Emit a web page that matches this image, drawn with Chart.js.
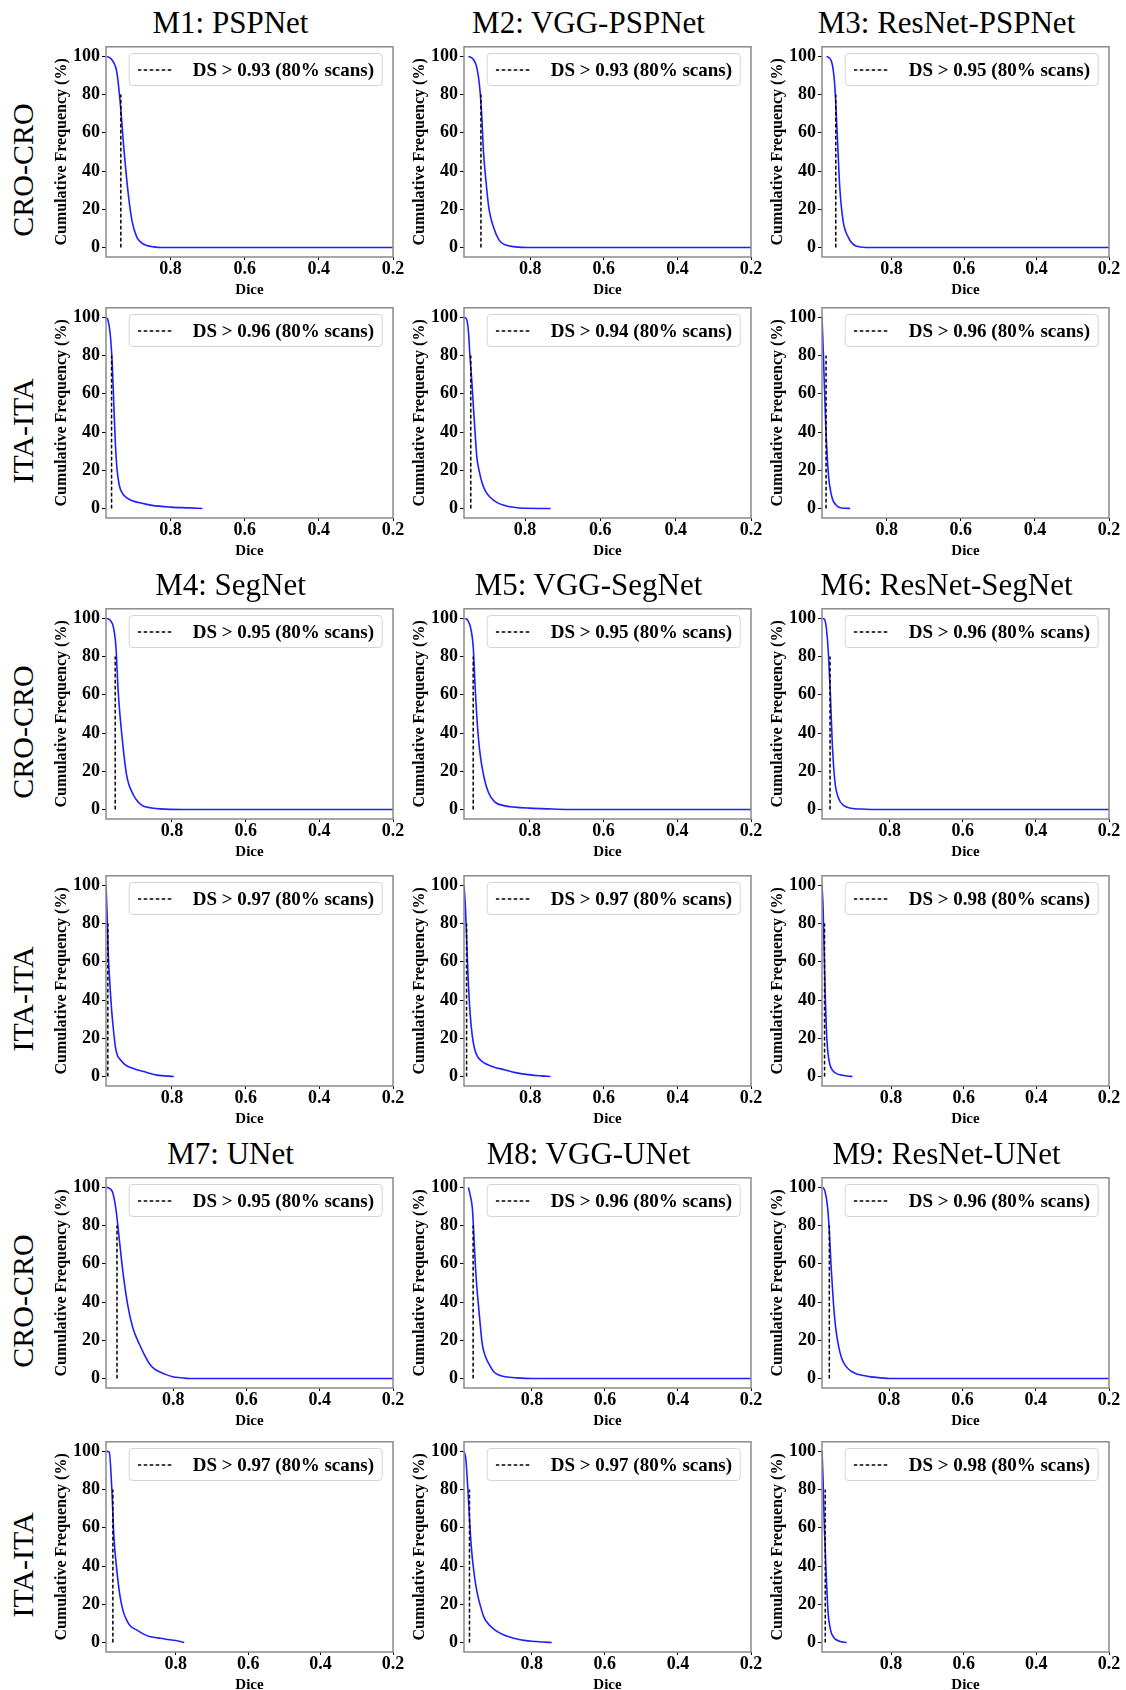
<!DOCTYPE html>
<html>
<head>
<meta charset="utf-8">
<script src="https://cdn.jsdelivr.net/npm/chart.js@4.4.0/dist/chart.umd.min.js"></script>
<style>
  body { margin: 0; background: #fff; }
  #fig { position: relative; width: 1126px; height: 1690px; background: #fff; font-family: "Liberation Serif", "Times New Roman", serif; color: #000; }
  #fig canvas { position: absolute; }
  .title { position: absolute; font-size: 31px; line-height: 30px; white-space: nowrap; transform: translateX(-50%); }
  .rowlab { position: absolute; font-size: 30px; line-height: 30px; white-space: nowrap; transform: translate(-50%, -50%) rotate(-90deg); }
  .legend { position: absolute; height: 31px; border: 1px solid #d4d4d4; border-radius: 4px; background: rgba(255,255,255,0.8);
            display: flex; align-items: center; padding: 0 8px; font-weight: bold; font-size: 19px; white-space: nowrap; transform: translateX(-100%); }
  .legend svg { margin-right: 19px; }
</style>
</head>
<body>
<div id="fig"></div>
<script>
// model names, row labels, ticks
const modelNames = ["M1: PSPNet", "M2: VGG-PSPNet", "M3: ResNet-PSPNet",
                    "M4: SegNet", "M5: VGG-SegNet", "M6: ResNet-SegNet",
                    "M7: UNet", "M8: VGG-UNet", "M9: ResNet-UNet"];
const setNames = ["CRO-CRO", "ITA-ITA"];
const xTicks = [0.8, 0.6, 0.4, 0.2];
const yTicks = [0, 20, 40, 60, 80, 100];

// 80% cut-off dice per panel (row by row: M1-M3 CRO, M1-M3 ITA, M4-M6 CRO, ...)
const cutoffDice = [0.934, 0.934, 0.954,
                    0.959, 0.944, 0.964,
                    0.954, 0.953, 0.963,
                    0.974, 0.973, 0.983,
                    0.954, 0.961, 0.963,
                    0.974, 0.970, 0.981];
// left end of each reversed dice axis
const diceAxisMax = [0.974, 0.980, 0.992,
                     0.974, 0.962, 0.975,
                     0.979, 0.978, 0.985,
                     0.979, 0.980, 0.990,
                     0.984, 0.986, 0.983,
                     0.993, 0.985, 0.990];

// cumulative frequency curves, CRO-CRO
const m1CroDice = [0.971, 0.962, 0.954, 0.945, 0.936, 0.925, 0.914, 0.904, 0.891, 0.878, 0.864, 0.845, 0.827, 0.2];
const m1CroFreq = [100, 99, 97, 92, 76.5, 50, 28, 14, 5.4, 2.4, 1, 0.3, 0, 0];
const m2CroDice = [0.968, 0.955, 0.945, 0.938, 0.932, 0.927, 0.920, 0.912, 0.900, 0.885, 0.870, 0.84, 0.80, 0.2];
const m2CroFreq = [100, 98.5, 94, 85, 70, 50, 34, 20, 10.7, 4, 1.5, 0.3, 0, 0];
const m3CroDice = [0.979, 0.966, 0.957, 0.950, 0.943, 0.934, 0.920, 0.898, 0.870, 0.2];
const m3CroFreq = [100, 97.5, 85.4, 59.4, 31.6, 14.2, 5.5, 0.7, 0, 0];
const m4CroDice = [0.977, 0.968, 0.959, 0.952, 0.946, 0.936, 0.923, 0.905, 0.89, 0.877, 0.855, 0.832, 0.77, 0.2];
const m4CroFreq = [100, 99, 95.5, 85, 62, 39, 18, 7.7, 3.5, 1.7, 0.8, 0.3, 0, 0];
const m5CroDice = [0.975, 0.968, 0.960, 0.953, 0.948, 0.942, 0.935, 0.925, 0.912, 0.895, 0.87, 0.84, 0.80, 0.75, 0.70, 0.2];
const m5CroFreq = [100, 99, 95, 85, 65, 45, 30, 18, 9, 4, 2, 1.2, 0.7, 0.3, 0, 0];
const m6CroDice = [0.983, 0.977, 0.972, 0.967, 0.962, 0.957, 0.950, 0.940, 0.925, 0.905, 0.88, 0.85, 0.2];
const m6CroFreq = [100, 99, 93, 80, 60, 35, 15, 6, 2, 0.6, 0.2, 0, 0];
const m7CroDice = [0.982, 0.975, 0.966, 0.957, 0.947, 0.938, 0.925, 0.911, 0.893, 0.878, 0.866, 0.852, 0.838, 0.82, 0.802, 0.78, 0.757, 0.2];
const m7CroFreq = [100, 99.5, 97.4, 88.8, 71.6, 56, 38.8, 26.7, 18, 12, 7.8, 5, 3.5, 2, 0.9, 0.4, 0, 0];
const m8CroDice = [0.974, 0.968, 0.963, 0.959, 0.955, 0.950, 0.945, 0.940, 0.936, 0.930, 0.923, 0.913, 0.904, 0.89, 0.873, 0.84, 0.80, 0.2];
const m8CroFreq = [100, 95, 88.8, 75, 59.5, 46, 35.3, 25, 18, 13, 9.5, 6, 3.4, 1.8, 0.9, 0.3, 0, 0];
const m9CroDice = [0.98, 0.975, 0.968, 0.963, 0.958, 0.952, 0.946, 0.938, 0.93, 0.92, 0.905, 0.89, 0.87, 0.85, 0.82, 0.80, 0.2];
const m9CroFreq = [100, 98, 90, 77, 58, 40, 27, 17, 11, 7, 4, 2.5, 1.5, 0.8, 0.3, 0, 0];

// cumulative frequency curves, ITA-ITA
const m1ItaDice = [0.974, 0.968, 0.962, 0.957, 0.953, 0.949, 0.944, 0.938, 0.930, 0.918, 0.905, 0.88, 0.85, 0.80, 0.75, 0.714];
const m1ItaFreq = [100, 98, 90, 75, 55, 35, 20, 12, 8, 5.5, 4.2, 2.8, 1.6, 0.7, 0.3, 0];
const m2ItaDice = [0.962, 0.955, 0.950, 0.946, 0.941, 0.937, 0.932, 0.928, 0.921, 0.914, 0.905, 0.892, 0.875, 0.856, 0.83, 0.80, 0.732];
const m2ItaFreq = [100, 99, 92, 79, 66, 53, 38, 27, 19, 13.4, 9, 5.7, 3.2, 1.7, 0.6, 0.1, 0];
const m3ItaDice = [0.975, 0.971, 0.965, 0.958, 0.949, 0.935, 0.922, 0.899];
const m3ItaFreq = [100, 79, 44, 18.6, 6.5, 1.4, 0.2, 0];
const m4ItaDice = [0.979, 0.976, 0.973, 0.968, 0.963, 0.958, 0.954, 0.948, 0.941, 0.932, 0.923, 0.91, 0.895, 0.868, 0.841, 0.795];
const m4ItaFreq = [100, 85, 65, 47, 33, 23, 16, 11, 9, 7, 5.6, 4.5, 3.5, 2.1, 0.7, 0];
const m5ItaDice = [0.98, 0.976, 0.972, 0.968, 0.963, 0.958, 0.952, 0.945, 0.935, 0.92, 0.90, 0.87, 0.84, 0.80, 0.77, 0.745];
const m5ItaFreq = [100, 88, 68, 48, 32, 22, 15, 11, 8.5, 6.5, 5, 3.5, 2, 0.8, 0.3, 0];
const m6ItaDice = [0.99, 0.987, 0.984, 0.981, 0.978, 0.974, 0.968, 0.96, 0.95, 0.935, 0.92, 0.906];
const m6ItaFreq = [100, 88, 65, 42, 25, 13, 6, 3, 1.5, 0.6, 0.2, 0];
const m7ItaDice = [0.991, 0.984, 0.977, 0.971, 0.963, 0.954, 0.945, 0.936, 0.925, 0.909, 0.89, 0.873, 0.85, 0.827, 0.80, 0.777];
const m7ItaFreq = [100, 99.6, 80.7, 54.8, 37.6, 23.8, 16, 11.7, 8.5, 6.6, 4.5, 3.1, 2.4, 1.7, 1, 0];
const m8ItaDice = [0.985, 0.98, 0.975, 0.97, 0.965, 0.958, 0.95, 0.94, 0.93, 0.915, 0.90, 0.88, 0.86, 0.84, 0.82, 0.80, 0.77, 0.745];
const m8ItaFreq = [100, 96, 82, 65, 50, 37, 27, 19, 13, 9, 6.5, 4.3, 2.8, 1.8, 1.1, 0.6, 0.2, 0];
const m9ItaDice = [0.99, 0.987, 0.984, 0.979, 0.973, 0.968, 0.964, 0.957, 0.951, 0.94, 0.922];
const m9ItaFreq = [100, 85, 63, 38, 15, 8, 4.8, 2.5, 1.4, 0.5, 0];

const curveDice = [
    [m1CroDice, m2CroDice, m3CroDice, m4CroDice, m5CroDice, m6CroDice, m7CroDice, m8CroDice, m9CroDice],
    [m1ItaDice, m2ItaDice, m3ItaDice, m4ItaDice, m5ItaDice, m6ItaDice, m7ItaDice, m8ItaDice, m9ItaDice],
];
const curveFreq = [
    [m1CroFreq, m2CroFreq, m3CroFreq, m4CroFreq, m5CroFreq, m6CroFreq, m7CroFreq, m8CroFreq, m9CroFreq],
    [m1ItaFreq, m2ItaFreq, m3ItaFreq, m4ItaFreq, m5ItaFreq, m6ItaFreq, m7ItaFreq, m8ItaFreq, m9ItaFreq],
];

// -----------------------
// layout
// -----------------------
const colLeft = [106, 464, 822];
const rowTop = [44, 305, 606, 873, 1175, 1439];
const BOX_W = 287, BOX_H = 213;
const Y_AXIS_W = 60, X_AXIS_H = 42, PAD_TOP = 10, PAD_RIGHT = 14;
const FONT = "'Liberation Serif', 'Times New Roman', serif";

Chart.defaults.font.family = FONT;
Chart.defaults.color = "#000";

// grey frame round the plot area (all four sides)
const boxFrame = {
    id: "boxFrame",
    afterDatasetsDraw(chart) {
        const { ctx, chartArea: a } = chart;
        ctx.save();
        ctx.strokeStyle = "#8a8a8a";
        ctx.lineWidth = 1.5;
        ctx.strokeRect(a.left, a.top, a.right - a.left, a.bottom - a.top);
        ctx.restore();
    },
};

const fig = document.getElementById("fig");

function addDiv(cls, text, left, top) {
    const d = document.createElement("div");
    d.className = cls;
    d.textContent = text;
    d.style.left = left + "px";
    d.style.top = top + "px";
    fig.appendChild(d);
    return d;
}

function addLegend(text, right, top) {
    const d = document.createElement("div");
    d.className = "legend";
    d.style.left = right + "px";
    d.style.top = top + "px";
    d.innerHTML = '<svg width="36" height="4"><line x1="0" y1="2" x2="36" y2="2" stroke="#000" stroke-width="1.5" stroke-dasharray="3.6,2.4"/></svg>';
    d.appendChild(document.createTextNode(text));
    fig.appendChild(d);
}

const yGrid = { display: true, drawOnChartArea: false, drawTicks: true, tickLength: 4, tickColor: "#000", tickWidth: 1 };
const xGrid = { display: true, drawOnChartArea: false, drawTicks: true, tickLength: 3, tickColor: "#000", tickWidth: 1 };
const tickFont = { family: FONT, size: 18, weight: "bold" };

for (let r = 0; r < 6; r++) {
    for (let c = 0; c < 3; c++) {
        const p = r * 3 + c;
        const m = Math.floor(r / 2) * 3 + c;
        const s = r % 2;
        const bx = colLeft[c], by = rowTop[r];

        if (s === 0) addDiv("title", modelNames[m], bx + BOX_W / 2 - 19, by - 36);
        if (c === 0) addDiv("rowlab", setNames[s], 22.5, by + BOX_H / 2 + 19);

        const cv = document.createElement("canvas");
        const W = Y_AXIS_W + BOX_W + PAD_RIGHT, H = PAD_TOP + BOX_H + X_AXIS_H;
        cv.width = W; cv.height = H;
        cv.style.width = W + "px"; cv.style.height = H + "px";
        cv.style.left = (bx - Y_AXIS_W) + "px";
        cv.style.top = (by - PAD_TOP) + "px";
        fig.appendChild(cv);

        const cut = cutoffDice[p];
        const dice = curveDice[s][m], freq = curveFreq[s][m];

        new Chart(cv, {
            type: "line",
            data: {
                datasets: [
                    {
                        label: "cut-off",
                        data: [{ x: cut, y: 0 }, { x: cut, y: 80 }],
                        borderColor: "#000",
                        borderWidth: 1.5,
                        borderDash: [3.6, 2.4],
                        pointRadius: 0,
                        fill: false,
                    },
                    {
                        label: "cumulative",
                        data: dice.map((d, i) => ({ x: d, y: freq[i] })),
                        borderColor: "#1f1fff",
                        borderWidth: 1.6,
                        pointRadius: 0,
                        fill: false,
                        cubicInterpolationMode: "monotone",
                    },
                ],
            },
            options: {
                responsive: false,
                animation: false,
                devicePixelRatio: 1,
                events: [],
                layout: { padding: { left: 0, top: PAD_TOP, right: PAD_RIGHT, bottom: 0 } },
                plugins: { legend: { display: false }, tooltip: { enabled: false } },
                scales: {
                    x: {
                        type: "linear",
                        reverse: true,
                        min: 0.2,
                        max: diceAxisMax[p],
                        afterBuildTicks: (sc) => { sc.ticks = xTicks.map((v) => ({ value: v })); },
                        afterFit: (sc) => { sc.height = X_AXIS_H; },
                        grid: xGrid,
                        border: { display: false },
                        ticks: { font: tickFont, color: "#000", padding: -1, maxRotation: 0, autoSkip: false,
                                 callback: (v) => v.toFixed(1) },
                        title: { display: true, text: "Dice", color: "#000",
                                 font: { family: FONT, size: 15, weight: "bold" }, padding: { top: 7, bottom: 0 } },
                    },
                    y: {
                        min: -5,
                        max: 105,
                        afterBuildTicks: (sc) => { sc.ticks = yTicks.map((v) => ({ value: v })); },
                        afterFit: (sc) => { sc.width = Y_AXIS_W; },
                        grid: yGrid,
                        border: { display: false },
                        ticks: { font: tickFont, color: "#000", padding: 2 },
                        title: { display: true, text: "Cumulative Frequency (%)", color: "#000",
                                 font: { family: FONT, size: 16, weight: "bold" }, padding: { top: 6, bottom: 0 } },
                    },
                },
            },
            plugins: [boxFrame],
        });

        addLegend("DS > " + cut.toFixed(2) + " (80% scans)", bx + BOX_W - 10, by + 9);
    }
}
</script>
</body>
</html>
